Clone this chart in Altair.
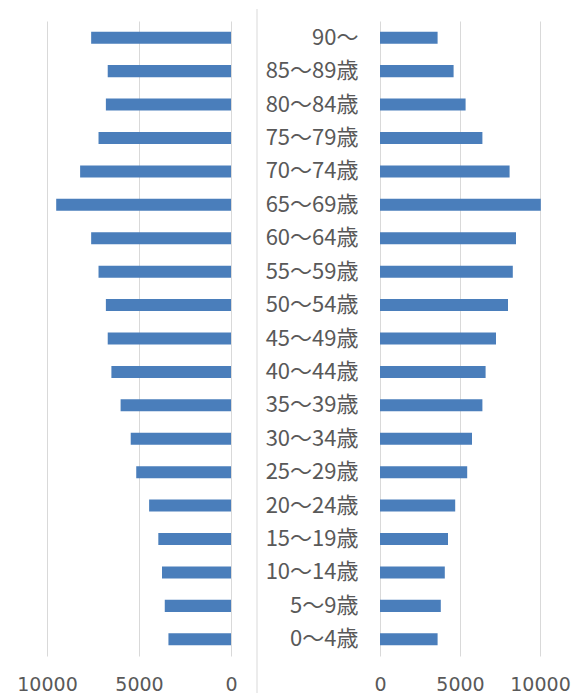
import altair as alt
import pandas as pd

ages = ["90～", "85～89歳", "80～84歳", "75～79歳", "70～74歳", "65～69歳",
        "60～64歳", "55～59歳", "50～54歳", "45～49歳", "40～44歳", "35～39歳",
        "30～34歳", "25～29歳", "20～24歳", "15～19歳", "10～14歳", "5～9歳", "0～4歳"]
left_vals = [7600, 6700, 6800, 7200, 8200, 9500, 7600, 7200, 6800, 6700,
             6500, 6000, 5450, 5150, 4450, 3950, 3750, 3600, 3400]
right_vals = [3600, 4600, 5350, 6400, 8100, 10050, 8500, 8300, 8000, 7250,
              6600, 6400, 5750, 5450, 4700, 4250, 4050, 3800, 3600]
ticks = [0, 5000, 10000]

df = pd.DataFrame({"age": ages, "left": left_vals, "right": right_vals})

BLUE = "#4a7ebb"
GRID = "#d9d9d9"
TXT = "#595959"
CJK = "Noto Sans CJK JP"
NUM = "DejaVu Sans"
H = 635

yscale = alt.Scale(paddingInner=0.64, paddingOuter=0.32)


def xaxis():
    return alt.Axis(values=ticks, grid=True, domain=False, ticks=False,
                    labelPadding=19, labelFontSize=19, labelColor=TXT,
                    labelFont=NUM, title=None, gridColor=GRID, format="d",
                    labelFlush=False, labelOverlap=False)


left = alt.Chart(df).mark_bar(color=BLUE).encode(
    x=alt.X("left:Q",
            scale=alt.Scale(domain=[0, 10000], reverse=True, nice=False),
            axis=xaxis()),
    y=alt.Y("age:N", sort=ages, scale=yscale, axis=None),
).properties(width=184, height=H)

bars_r = alt.Chart(df).mark_bar(color=BLUE).encode(
    x=alt.X("right:Q",
            scale=alt.Scale(domain=[0, 10000], nice=False),
            axis=xaxis()),
    y=alt.Y("age:N", sort=ages, scale=yscale,
            axis=alt.Axis(domain=False, ticks=False, labelPadding=22,
                          labelFontSize=22, labelColor=TXT, labelFont=CJK,
                          title=None)),
)

sep = alt.Chart(pd.DataFrame({"a": [0]})).mark_rule(color=GRID).encode(
    x=alt.value(-123), y=alt.value(-12), y2=alt.value(672)
)

right = alt.layer(bars_r, sep).properties(width=160, height=H)

chart = alt.hconcat(left, right, spacing=18).properties(
    padding={"left": 8, "top": 0, "right": 0, "bottom": 0}
).configure_view(stroke=None)

chart.save("out.html", embed_options={"renderer": "svg", "actions": False})
